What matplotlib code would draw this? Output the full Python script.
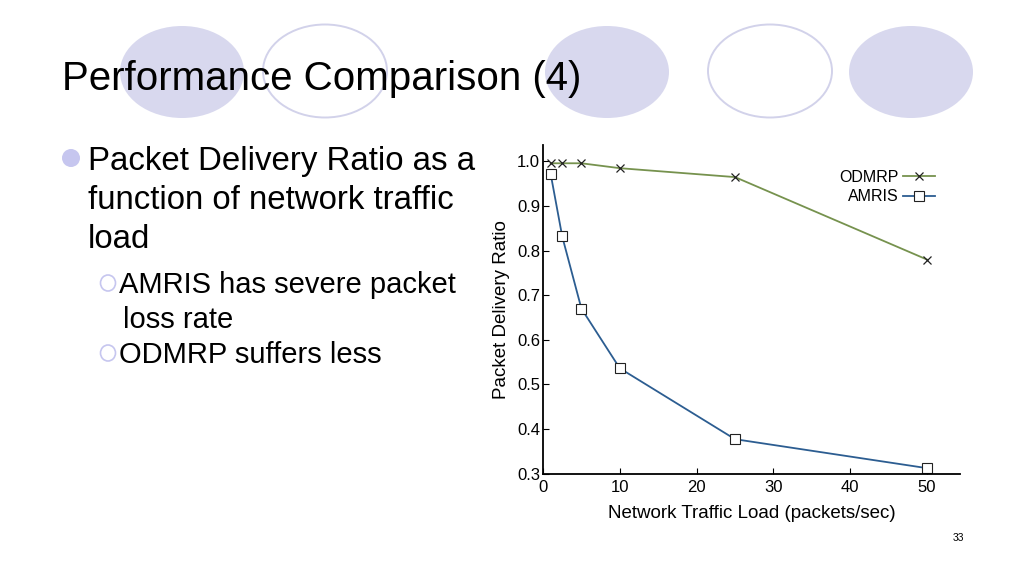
import matplotlib
matplotlib.use("Agg")
import matplotlib.pyplot as plt
from matplotlib.patches import Ellipse

plt.rcParams['font.family'] = ['Liberation Sans', 'DejaVu Sans']

# data
load = [1, 2.5, 5, 10, 25, 50]
odmrp = [0.996, 0.996, 0.996, 0.985, 0.965, 0.78]
amris = [0.972, 0.832, 0.670, 0.536, 0.377, 0.312]
x_ticks = [0, 10, 20, 30, 40, 50]
y_ticks = [0.3, 0.4, 0.5, 0.6, 0.7, 0.8, 0.9, 1.0]

title = "Performance Comparison (4)"
bullet_lines = ["Packet Delivery Ratio as a", "function of network traffic", "load"]
sub1_lines = ["AMRIS has severe packet", "loss rate"]
sub2_lines = ["ODMRP suffers less"]

W, H = 1024, 577
fig = plt.figure(figsize=(W / 100, H / 100), dpi=100)

# slide background drawn in pixel coordinates
bg = fig.add_axes([0, 0, 1, 1])
bg.set_xlim(0, W)
bg.set_ylim(H, 0)
bg.axis('off')

fill_c = '#d8d8ee'
edge_c = '#d2d2ea'
circles = [(182, 72, True), (325, 71, False), (607, 72, True), (770, 71, False), (911, 72, True)]
for cx, cy, filled in circles:
    if filled:
        bg.add_patch(Ellipse((cx, cy), 124, 92, facecolor=fill_c, edgecolor='none'))
    else:
        bg.add_patch(Ellipse((cx, cy), 124, 93, facecolor='none', edgecolor=edge_c, linewidth=1.4))

bg.text(62, 90, title, fontsize=29, va='baseline', ha='left', color='black')

# main bullet
bg.add_patch(Ellipse((71, 158), 18, 18, facecolor='#c6c6ef', edgecolor='none'))
for i, line in enumerate(bullet_lines):
    bg.text(88, 170 + i * 39, line, fontsize=23.8, va='baseline', ha='left')

# sub bullets
bg.add_patch(Ellipse((108, 283), 15, 16, facecolor='none', edgecolor='#c6c6ef', linewidth=1.2))
for i, line in enumerate(sub1_lines):
    bg.text(119 if i == 0 else 123, 293 + i * 35, line, fontsize=21, va='baseline', ha='left')
bg.add_patch(Ellipse((108, 353), 15, 16, facecolor='none', edgecolor='#c6c6ef', linewidth=1.2))
for i, line in enumerate(sub2_lines):
    bg.text(119, 363 + i * 35, line, fontsize=21, va='baseline', ha='left')

bg.text(958, 541, "33", fontsize=7.5, va='baseline', ha='center')

# chart
ax = fig.add_axes([543 / W, 1 - 473.5 / H, (960 - 543) / W, (473.5 - 145) / H])
ax.plot(load, odmrp, color='#76924e', linewidth=1.3, marker='x', markersize=6,
        markeredgecolor='#222222', markeredgewidth=0.9, label='ODMRP')
ax.plot(load, amris, color='#2c5d91', linewidth=1.3, marker='s', markersize=6.5,
        markerfacecolor='white', markeredgecolor='#222222', markeredgewidth=0.8, label='AMRIS')

ax.set_xlim(0, 54.3)
ax.set_ylim(0.3, 1.037)
ax.set_xticks(x_ticks)
ax.set_yticks(y_ticks)
ax.set_yticklabels([f"{v:.1f}" for v in y_ticks])
ax.spines['top'].set_visible(False)
ax.spines['right'].set_visible(False)
ax.spines['left'].set_linewidth(1.3)
ax.spines['bottom'].set_linewidth(1.3)
ax.tick_params(direction='in', length=4, width=0.8, labelsize=12, pad=2)
ax.tick_params(axis='x', pad=5)
ax.set_xlabel("Network Traffic Load (packets/sec)", fontsize=13.5, labelpad=7)
ax.set_ylabel("Packet Delivery Ratio", fontsize=13.5, labelpad=5)
ax.patch.set_alpha(0)

ax.legend(loc='upper right', bbox_to_anchor=(0.94, 0.925), frameon=False, markerfirst=False,
          fontsize=11.5, borderaxespad=0, borderpad=0, handlelength=2.0,
          handletextpad=0.3, labelspacing=0.3)

fig.savefig("out.png", dpi=100)
